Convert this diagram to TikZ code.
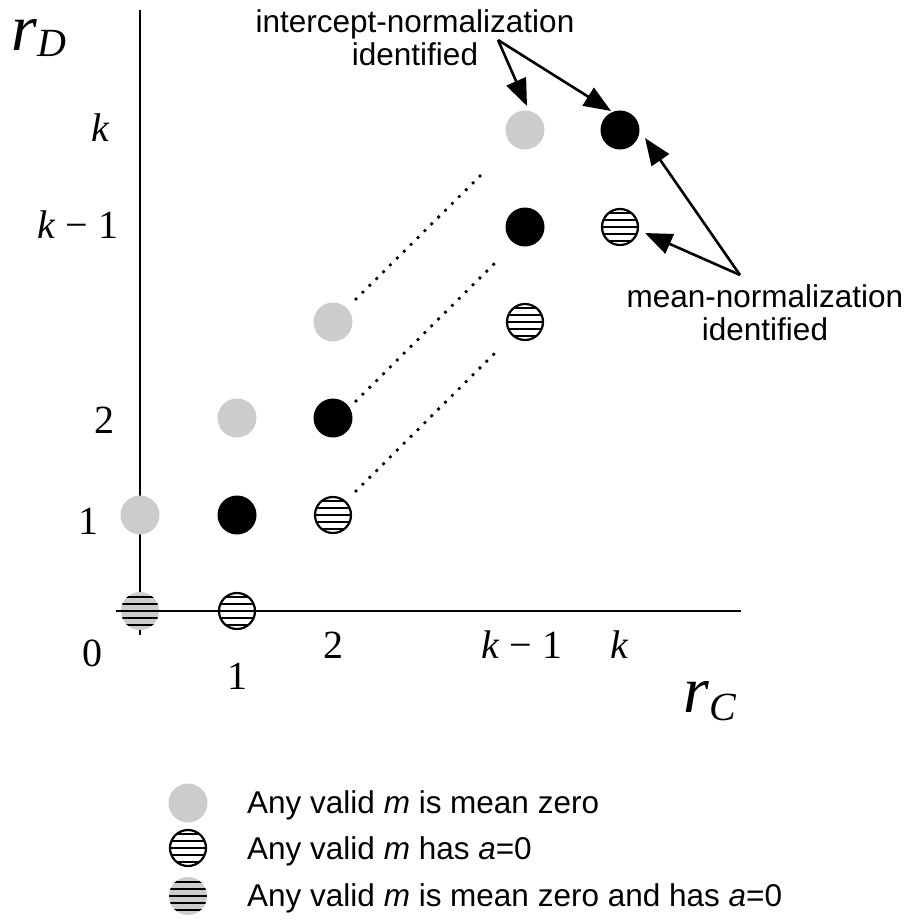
\documentclass[tikz,border=0pt]{standalone}
\usepackage{fontspec}
\setmainfont{Liberation Serif}
\setsansfont{Liberation Sans}
\usetikzlibrary{arrows.meta}
\definecolor{lgray}{RGB}{204,204,204}
\begin{document}
\begin{tikzpicture}[x=1pt,y=-1pt,
  dot/.style={circle,inner sep=0pt,minimum size=39pt},
  gdot/.style={dot,fill=lgray},
  bdot/.style={dot,fill=black},
  hatchlines/.style={path picture={\foreach \dy in {-14,-7,0,7,14}{\draw[line width=1.5pt] ([yshift=\dy pt]path picture bounding box.west) -- ([yshift=\dy pt]path picture bounding box.east);}}},
  hdot/.style={circle,inner sep=0pt,minimum size=36pt,draw=black,line width=2.2pt,fill=white,hatchlines},
  ghdot/.style={dot,minimum size=38pt,fill=lgray,hatchlines},
  num/.style={inner sep=0pt,font=\fontsize{40}{40}\selectfont},
  ann/.style={font=\sffamily\fontsize{31.5}{33}\selectfont,align=center,inner sep=0pt},
  leg/.style={anchor=base west,inner sep=0pt,font=\sffamily\fontsize{31.5}{33}\selectfont},
  axisline/.style={line width=1.8pt},
  dots/.style={line width=3.8pt,line cap=round,dash pattern=on 0pt off 9.7pt},
  arr/.style={line width=2.6pt,-{Triangle[length=27pt,width=21pt]}}]
\useasboundingbox (0,0) rectangle (912,922);

% axes
\coordinate (ytop) at (140,10);
\coordinate (ybot) at (140,635);
\coordinate (xl) at (116,611);
\coordinate (xr) at (741,611);
\draw[axisline] (ytop) -- (ybot);
\draw[axisline] (xl) -- (xr);

% axis titles
\node[anchor=base west,inner sep=0pt] (rD) at (11,50) {\fontsize{66}{66}\selectfont\textit{r}\raisebox{-6pt}{\fontsize{40}{40}\selectfont\textit{D}}};
\node[anchor=base west,inner sep=0pt] (rC) at (683,712) {\fontsize{66}{66}\selectfont\textit{r}\raisebox{-8pt}{\fontsize{40}{40}\selectfont\textit{C}}};

% tick labels
\node[num] (yk) at (101,128) {\textit{k}};
\node[num] (yk1) at (78,225) {\textit{k} − 1};
\node[num] (y2) at (104,420) {2};
\node[num] (y1) at (88,521) {1};
\node[num] (x0) at (92,653) {0};
\node[num] (x1) at (237,676) {1};
\node[num] (x2) at (333,645) {2};
\node[num] (xk1) at (522,645) {\textit{k} − 1};
\node[num] (xk) at (620,645) {\textit{k}};

% dotted connectors
\coordinate (d1a) at (356,299); \coordinate (d1b) at (486,170);
\coordinate (d2a) at (356,401); \coordinate (d2b) at (499,259);
\coordinate (d3a) at (356,491); \coordinate (d3b) at (499,349);
\draw[dots] (d1a) -- (d1b);
\draw[dots] (d2a) -- (d2b);
\draw[dots] (d3a) -- (d3b);

% points
\node[ghdot] (p00) at (140,611) {};
\node[hdot] (p10) at (237,611) {};
\node[gdot] (p01) at (140,515) {};
\node[bdot] (p11) at (237,515) {};
\node[hdot] (p21) at (333,515) {};
\node[gdot] (p12) at (237,418) {};
\node[bdot] (p22) at (333,418) {};
\node[gdot] (p23) at (333,322) {};
\node[hdot] (pk1k2) at (525,322) {};
\node[bdot] (pk1k1) at (525,227) {};
\node[hdot] (pkk1) at (620,227) {};
\node[gdot] (pk1k) at (525,130) {};
\node[bdot] (pkk) at (620,130) {};

% annotations
\node[ann] (intlab) at (415,38) {intercept-normalization\\identified};
\node[ann] (meanlab) at (765,313) {mean-normalization\\identified};
\coordinate (ia) at (498,40);
\coordinate (ma) at (740,275);
\draw[arr] (ia) -- (527,106);
\draw[arr] (ia) -- (611,111);
\draw[arr] (ma) -- (645,138);
\draw[arr] (ma) -- (645,233);

% legend
\node[gdot] (lg1) at (188,803) {};
\node[hdot] (lg2) at (188,848) {};
\node[ghdot] (lg3) at (188,896) {};
\node[leg] (lt1) at (247,813) {Any valid \textit{m} is mean zero};
\node[leg] (lt2) at (247,859) {Any valid \textit{m} has \textit{a}=0};
\node[leg] (lt3) at (247,906) {Any valid \textit{m} is mean zero and has \textit{a}=0};
\end{tikzpicture}
\end{document}
